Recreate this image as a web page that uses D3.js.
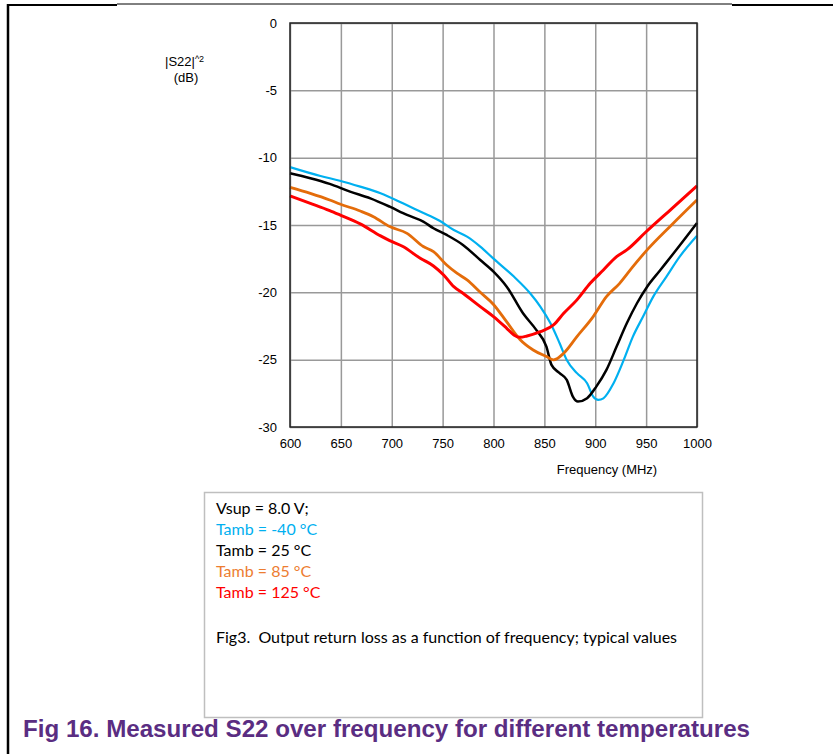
<!DOCTYPE html>
<html>
<head>
<meta charset="utf-8">
<script src="https://cdn.jsdelivr.net/npm/d3@7"></script>
<style>
  body { margin: 0; background: #fff; }
  svg { display: block; }
</style>
</head>
<body>
<div id="chart"></div>
<script>
// tick values
var freqTicks = [600, 650, 700, 750, 800, 850, 900, 950, 1000];
var dbTicks = [0, -5, -10, -15, -20, -25, -30];

// Tamb = -40 C
var freqM40 = [600, 630, 649, 669, 689, 711, 728, 747, 761, 774, 787, 800, 820, 836, 846, 856, 865, 872, 882, 892, 898, 903, 908, 918, 928, 937, 947, 957, 970, 983, 1000];
var dbM40   = [-10.7, -11.36, -11.71, -12.15, -12.64, -13.39, -14.0, -14.68, -15.37, -15.86, -16.6, -17.5, -18.83, -20.07, -21.06, -22.3, -23.78, -25.02, -26.0, -26.75, -27.74, -27.99, -27.87, -26.75, -25.02, -23.29, -21.8, -20.32, -18.83, -17.35, -15.8];

// Tamb = 25 C
var freq25 = [600, 620, 639, 659, 679, 698, 715, 731, 741, 754, 770, 787, 800, 813, 829, 842, 852, 857, 865, 872, 878, 883, 892, 901, 911, 921, 931, 941, 951, 964, 977, 1000];
var db25   = [-11.16, -11.53, -11.95, -12.52, -13.02, -13.64, -14.25, -14.75, -15.24, -15.74, -16.48, -17.6, -18.46, -19.58, -21.56, -22.79, -24.03, -25.39, -26.0, -26.5, -27.74, -28.11, -27.86, -27.0, -25.76, -24.03, -22.3, -20.81, -19.58, -18.34, -17.1, -14.85];

// Tamb = 85 C
var freq85 = [600, 620, 639, 649, 669, 682, 698, 715, 731, 741, 754, 764, 774, 787, 800, 813, 826, 839, 852, 859, 869, 882, 898, 911, 924, 937, 951, 975, 1000];
var db85   = [-12.2, -12.65, -13.14, -13.44, -13.96, -14.38, -15.12, -15.62, -16.6, -16.98, -17.97, -18.58, -19.08, -20.0, -20.9, -22.2, -23.5, -24.28, -24.77, -25.02, -24.52, -23.29, -21.8, -20.32, -19.33, -18.09, -16.85, -15.0, -13.14];

// Tamb = 125 C
var freq125 = [600, 620, 639, 649, 669, 689, 698, 711, 728, 741, 751, 761, 770, 787, 800, 813, 820, 826, 833, 846, 859, 869, 882, 895, 908, 921, 931, 950, 975, 1000];
var db125   = [-12.84, -13.39, -13.93, -14.25, -14.92, -15.81, -16.16, -16.6, -17.47, -18.04, -18.71, -19.58, -20.07, -21.06, -21.8, -22.67, -23.16, -23.34, -23.24, -22.92, -22.42, -21.56, -20.56, -19.33, -18.34, -17.35, -16.85, -15.5, -13.8, -12.1];

var legendLines = ['Vsup = 8.0 V;', 'Tamb = -40 °C', 'Tamb = 25 °C', 'Tamb = 85 °C', 'Tamb = 125 °C'];
var legendColors = ['#000000', '#00b0f0', '#000000', '#ed7d31', '#ff0000'];

var series = [
  {freq: freqM40, db: dbM40, color: '#00b0f0', width: 2.2},
  {freq: freq25, db: db25, color: '#000000', width: 2.5},
  {freq: freq85, db: db85, color: '#e46c0a', width: 2.8},
  {freq: freq125, db: db125, color: '#ff0000', width: 3}
];

var W = 833, H = 754;
var svg = d3.select('#chart').append('svg')
    .attr('width', W)
    .attr('height', H);

// page frame pieces
svg.append('line').attr('x1', 8).attr('x2', 8).attr('y1', 4).attr('y2', H)
    .attr('stroke', '#000').attr('stroke-width', 2.5);
svg.append('line').attr('x1', 7).attr('x2', 117).attr('y1', 5).attr('y2', 5)
    .attr('stroke', '#000').attr('stroke-width', 2);
svg.append('line').attr('x1', 117).attr('x2', 732).attr('y1', 4).attr('y2', 4)
    .attr('stroke', '#000').attr('stroke-width', 1);
svg.append('line').attr('x1', 732).attr('x2', W).attr('y1', 5).attr('y2', 5)
    .attr('stroke', '#000').attr('stroke-width', 2);

// plot area
var pLeft = 290, pRight = 697, pTop = 23, pBottom = 427;
var x = d3.scaleLinear().domain([600, 1000]).range([pLeft, pRight]);
var y = d3.scaleLinear().domain([-30, 0]).range([pBottom, pTop]);

// plain hyphen minus like the original
var plain = function(d) { return String(d); };

// grid
svg.append('g')
    .attr('transform', 'translate(0,' + pBottom + ')')
    .call(d3.axisBottom(x).tickValues(freqTicks).tickSize(-(pBottom - pTop)).tickFormat(''))
    .call(function(g) { g.select('.domain').remove(); })
    .selectAll('line').attr('stroke', '#999').attr('stroke-width', 1.5);
svg.append('g')
    .attr('transform', 'translate(' + pLeft + ',0)')
    .call(d3.axisLeft(y).tickValues(dbTicks).tickSize(-(pRight - pLeft)).tickFormat(''))
    .call(function(g) { g.select('.domain').remove(); })
    .selectAll('line').attr('stroke', '#999').attr('stroke-width', 1.5);

// tick labels
var xAxis = svg.append('g')
    .attr('transform', 'translate(0,' + pBottom + ')')
    .call(d3.axisBottom(x).tickValues(freqTicks).tickSize(0).tickPadding(12).tickFormat(plain));
xAxis.select('.domain').remove();
xAxis.selectAll('text')
    .attr('font-family', 'Liberation Sans, Arial, sans-serif')
    .attr('font-size', 13).attr('fill', '#000');

var yAxis = svg.append('g')
    .attr('transform', 'translate(' + pLeft + ',0)')
    .call(d3.axisLeft(y).tickValues(dbTicks).tickSize(0).tickPadding(13).tickFormat(plain));
yAxis.select('.domain').remove();
yAxis.selectAll('text')
    .attr('font-family', 'Liberation Sans, Arial, sans-serif')
    .attr('font-size', 13).attr('fill', '#000');

// curves
var line = d3.line()
    .x(function(d) { return x(d[0]); })
    .y(function(d) { return y(d[1]); })
    .curve(d3.curveMonotoneX);

series.forEach(function(s) {
  svg.append('path')
      .datum(d3.zip(s.freq, s.db))
      .attr('fill', 'none')
      .attr('stroke', s.color)
      .attr('stroke-width', s.width)
      .attr('stroke-linejoin', 'round')
      .attr('d', line);
});

// plot frame
svg.append('rect')
    .attr('x', pLeft).attr('y', pTop)
    .attr('width', pRight - pLeft).attr('height', pBottom - pTop)
    .attr('fill', 'none').attr('stroke', '#222').attr('stroke-width', 1.5);

// axis titles
var yLab = svg.append('text')
    .attr('x', 165).attr('y', 66)
    .attr('font-family', 'Liberation Sans, Arial, sans-serif')
    .attr('font-size', 13);
yLab.append('tspan').text('|S22|');
yLab.append('tspan').attr('font-size', 9).attr('dy', -4).text('^2');
svg.append('text')
    .attr('x', 186).attr('y', 82)
    .attr('text-anchor', 'middle')
    .attr('font-family', 'Liberation Sans, Arial, sans-serif')
    .attr('font-size', 13)
    .text('(dB)');

svg.append('text')
    .attr('x', 607).attr('y', 474)
    .attr('text-anchor', 'middle')
    .attr('font-family', 'Liberation Sans, Arial, sans-serif')
    .attr('font-size', 13)
    .text('Frequency (MHz)');

// legend box
svg.append('rect')
    .attr('x', 204.5).attr('y', 492.5)
    .attr('width', 498).attr('height', 225)
    .attr('fill', '#fff').attr('stroke', '#bfbfbf').attr('stroke-width', 1.5);

svg.selectAll('.leg')
    .data(legendLines)
    .enter().append('text')
    .attr('class', 'leg')
    .attr('x', 216)
    .attr('y', function(d, i) { return 514 + i * 21; })
    .attr('font-family', 'Lato, Carlito, Calibri, sans-serif')
    .attr('font-size', 16)
    .attr('fill', function(d, i) { return legendColors[i]; })
    .text(function(d) { return d; });

svg.append('text')
    .attr('x', 216).attr('y', 643)
    .attr('font-family', 'Lato, Carlito, Calibri, sans-serif')
    .attr('font-size', 16)
    .style('white-space', 'pre')
    .text('Fig3.  Output return loss as a function of frequency; typical values');

// caption
svg.append('text')
    .attr('x', 23).attr('y', 737)
    .attr('font-family', 'Liberation Sans, Arial, sans-serif')
    .attr('font-weight', 'bold')
    .attr('font-size', 24)
    .attr('fill', '#5a2d82')
    .attr('textLength', 727)
    .attr('lengthAdjust', 'spacingAndGlyphs')
    .text('Fig 16. Measured S22 over frequency for different temperatures');
</script>
</body>
</html>
